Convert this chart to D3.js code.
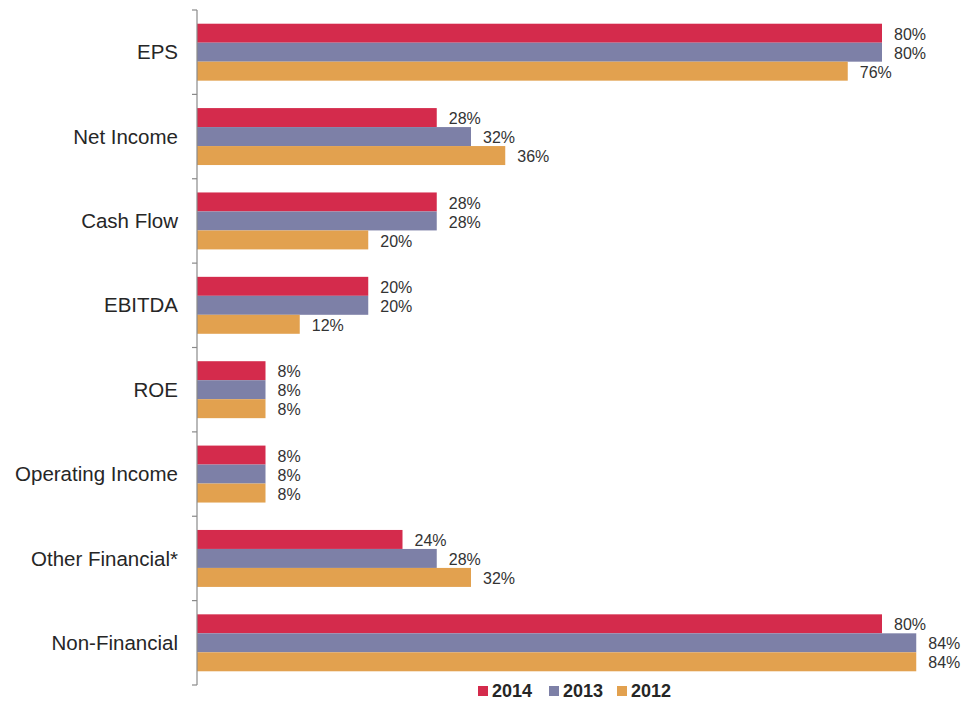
<!DOCTYPE html>
<html>
<head>
<meta charset="utf-8">
<script src="https://cdn.jsdelivr.net/npm/d3@7/dist/d3.min.js"></script>
<style>
  html, body { margin: 0; padding: 0; background: #fff; }
  svg { display: block; font-family: Arial, "Liberation Sans", sans-serif; }
</style>
</head>
<body>
<svg id="chart" width="963" height="703"></svg>
<script>
// Performance metrics used in incentive plans, share of companies by year
const categories = ["EPS", "Net Income", "Cash Flow", "EBITDA", "ROE",
                    "Operating Income", "Other Financial*", "Non-Financial"];
const seriesNames = ["2014", "2013", "2012"];
const values2014 = [80, 28, 28, 20, 8, 8, 24, 80];
const values2013 = [80, 32, 28, 20, 8, 8, 28, 84];
const values2012 = [76, 36, 20, 12, 8, 8, 32, 84];
const colors = ["#d42b4c", "#7d80a7", "#e2a14f"];

const seriesValues = [values2014, values2013, values2012];

const svg = d3.select("#chart");
const margin = { left: 197, top: 10, bottom: 18 };
const plotBottom = 703 - margin.bottom;

const x = d3.scaleLinear().domain([0, 80]).range([margin.left, 882]);

const y = d3.scaleBand()
  .domain(categories)
  .range([margin.top, plotBottom])
  .paddingInner(0.325)
  .paddingOuter(0.1625);

const inner = d3.scaleBand()
  .domain(seriesNames)
  .range([0, y.bandwidth()]);

// Bars
const groups = svg.append("g")
  .selectAll("g")
  .data(categories)
  .join("g")
  .attr("transform", d => `translate(0,${y(d)})`);

groups.selectAll("rect")
  .data((c, i) => seriesNames.map((s, k) => ({ s, k, v: seriesValues[k][i] })))
  .join("rect")
  .attr("x", x(0))
  .attr("y", d => inner(d.s))
  .attr("width", d => x(d.v) - x(0))
  .attr("height", inner.bandwidth())
  .attr("fill", d => colors[d.k]);

// Value labels
groups.selectAll("text")
  .data((c, i) => seriesNames.map((s, k) => ({ s, k, v: seriesValues[k][i] })))
  .join("text")
  .attr("x", d => x(d.v) + 12)
  .attr("y", d => inner(d.s) + inner.bandwidth() / 2 + 1)
  .attr("dy", "0.35em")
  .attr("font-size", 16)
  .attr("fill", "#333")
  .text(d => d.v + "%");

// Category axis with ticks on band boundaries
const axisG = svg.append("g");
axisG.append("line")
  .attr("x1", x(0)).attr("x2", x(0))
  .attr("y1", margin.top).attr("y2", plotBottom)
  .attr("stroke", "#8a8a8a").attr("stroke-width", 1.2);

const bounds = d3.range(categories.length + 1).map(i => margin.top + i * (plotBottom - margin.top) / categories.length);
axisG.selectAll("line.tick")
  .data(bounds)
  .join("line")
  .attr("class", "tick")
  .attr("x1", x(0) - 5).attr("x2", x(0))
  .attr("y1", d => d).attr("y2", d => d)
  .attr("stroke", "#8a8a8a").attr("stroke-width", 1.2);

axisG.selectAll("text")
  .data(categories)
  .join("text")
  .attr("x", x(0) - 19)
  .attr("y", d => y(d) + y.bandwidth() / 2)
  .attr("dy", "0.35em")
  .attr("text-anchor", "end")
  .attr("font-size", 20.5)
  .attr("fill", "#262626")
  .text(d => d);

// Legend
const legendItems = svg.append("g").attr("transform", "translate(478,691)");
const legendX = [0, 71, 139];
seriesNames.forEach((s, k) => {
  const g = legendItems.append("g").attr("transform", `translate(${legendX[k]},0)`);
  g.append("rect").attr("x", 0).attr("y", -5).attr("width", 10).attr("height", 10).attr("fill", colors[k]);
  g.append("text").attr("x", 14).attr("y", 0).attr("dy", "0.35em")
    .attr("font-size", 18).attr("font-weight", "bold").attr("fill", "#262626").text(s);
});
</script>
</body>
</html>
